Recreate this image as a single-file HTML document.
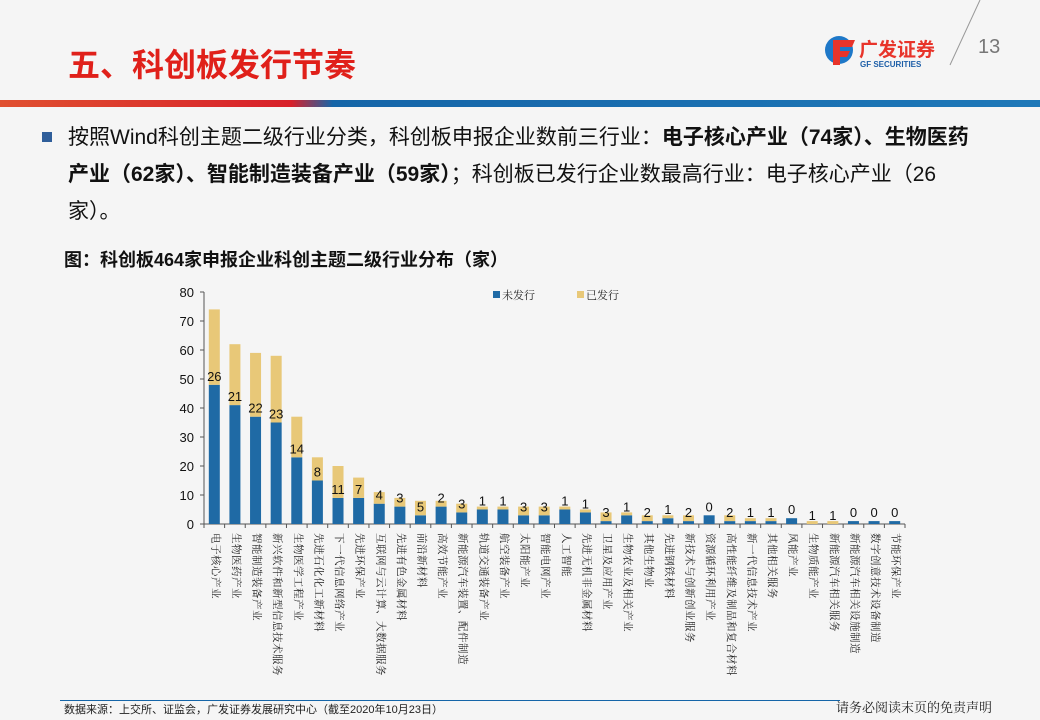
<!DOCTYPE html>
<html><head><meta charset="utf-8">
<style>
body{margin:0;width:1040px;height:720px;background:#f5f5f5;position:relative;overflow:hidden;font-family:"Liberation Sans","Noto Sans CJK SC",sans-serif;}
.abs{position:absolute;}
#title{left:68px;top:40px;font-size:32px;font-weight:bold;color:#e0201a;}
#band{left:0;top:100px;width:1040px;height:7px;background:linear-gradient(90deg,#e05030 0%,#d8202a 28%,#1565a8 32%,#1e78b8 100%);}
.txt{left:68px;font-size:21px;color:#111;line-height:37px;white-space:nowrap;}
b{font-weight:bold;}
#bullet{left:42px;top:132px;width:10px;height:10px;background:#2f5e9a;}
#ctitle{left:64px;top:246px;font-size:18px;font-weight:bold;color:#111;}
#footline{left:60px;top:700px;width:780px;height:1px;background:#1565a8;}
#source{left:64px;top:701px;font-size:11px;color:#222;}
#disc{left:836px;top:697px;font-size:13px;color:#222;font-family:"Liberation Serif","Noto Serif CJK SC",serif;}
.cat{position:absolute;top:533px;writing-mode:vertical-rl;text-orientation:sideways;font-size:10.5px;line-height:12px;color:#222;font-family:"Liberation Serif","Noto Serif CJK SC",serif;letter-spacing:0.5px;}
</style></head><body>
<div class="abs" id="title">五、科创板发行节奏</div>
<div class="abs" style="left:823px;top:32px;">
  <svg width="150" height="40"><circle cx="16" cy="18" r="14" fill="#1e78c8"/><path d="M10 8h22l-3 7h-12v4h10l-3 6h-7v8h-7z" fill="#e8342a"/>
  <text x="36" y="24" font-size="19" font-weight="bold" fill="#e8342a" font-family="Noto Sans CJK SC,sans-serif">广发证券</text>
  <text x="37" y="35" font-size="8" font-weight="bold" fill="#1e5fa8" font-family="Liberation Sans,sans-serif">GF SECURITIES</text></svg>
</div>
<svg class="abs" style="left:945px;top:0" width="40" height="70"><line x1="35" y1="0" x2="5" y2="65" stroke="#999" stroke-width="1"/></svg>
<div class="abs" style="left:978px;top:36px;font-size:20px;color:#777;">13</div>
<div class="abs" id="band"></div>
<div class="abs" id="bullet"></div>
<div class="abs txt" style="top:119px;">按照Wind科创主题二级行业分类，科创板申报企业数前三行业：<b>电子核心产业（74家）、生物医药</b><br><b>产业（62家）、智能制造装备产业（59家）</b>；科创板已发行企业数最高行业：电子核心产业（26<br>家）。</div>
<div class="abs" id="ctitle">图：科创板464家申报企业科创主题二级行业分布（家）</div>
<svg class="abs" id="chart" style="left:0;top:0" width="1040" height="720"></svg>
<div id="cats"></div>
<div class="abs" id="footline"></div>
<div class="abs" id="source">数据来源：上交所、证监会，广发证券发展研究中心（截至2020年10月23日）</div>
<div class="abs" id="disc">请务必阅读末页的免责声明</div>
<script>
const categories=["电子核心产业","生物医药产业","智能制造装备产业","新兴软件和新型信息技术服务","生物医学工程产业","先进石化化工新材料","下一代信息网络产业","先进环保产业","互联网与云计算、大数据服务","先进有色金属材料","前沿新材料","高效节能产业","新能源汽车装置、配件制造","轨道交通装备产业","航空装备产业","太阳能产业","智能电网产业","人工智能","先进无机非金属材料","卫星及应用产业","生物农业及相关产业","其他生物业","先进钢铁材料","新技术与创新创业服务","资源循环利用产业","高性能纤维及制品和复合材料","新一代信息技术产业","其他相关服务","风能产业","生物质能产业","新能源汽车相关服务","新能源汽车相关设施制造","数字创意技术设备制造","节能环保产业"];
const notIssued=[48,41,37,35,23,15,9,9,7,6,3,6,4,5,5,3,3,5,4,1,3,1,2,1,3,1,1,1,2,0,0,1,1,1];
const issued=[26,21,22,23,14,8,11,7,4,3,5,2,3,1,1,3,3,1,1,3,1,2,1,2,0,2,1,1,0,1,1,0,0,0];
const yTicks=[0,10,20,30,40,50,60,70,80];
const legendLabels=["未发行","已发行"];
const NS="http://www.w3.org/2000/svg";
const svg=document.getElementById('chart');
const x0=204,x1=905,yB=524,yT=292,yMax=80;
const step=(x1-x0)/categories.length;
const y=v=>yB-(v/yMax)*(yB-yT);
const xc=i=>x0+step*(i+0.5);
const bw=11;
function el(t,a){const e=document.createElementNS(NS,t);for(const k in a)e.setAttribute(k,a[k]);svg.appendChild(e);return e;}
let ax=el('line',{x1:x0,y1:yT,x2:x0,y2:yB,stroke:'#555'});


let bx=el('line',{x1:x0,y1:yB,x2:x1,y2:yB,stroke:'#555'});


yTicks.forEach(v=>{
  el('line',{x1:x0-4,y1:y(v),x2:x0,y2:y(v),stroke:'#555'});
  const t=el('text',{x:x0-10,y:y(v)+5,'text-anchor':'end','font-size':13,fill:'#111','font-family':'Liberation Sans,sans-serif'});
  t.textContent=v;
  
  
});
for(let i=0;i<=categories.length;i++)el('line',{x1:x0+step*i,y1:yB,x2:x0+step*i,y2:yB+4,stroke:'#555'});
const cats=document.getElementById('cats');
categories.forEach((c,i)=>{
  const b=el('rect',{x:xc(i)-bw/2,y:y(notIssued[i]),width:bw,height:yB-y(notIssued[i]),fill:'#1f6aa5'});
  
  
  const b2=el('rect',{x:xc(i)-bw/2,y:y(notIssued[i]+issued[i]),width:bw,height:y(notIssued[i])-y(notIssued[i]+issued[i]),fill:'#e8c878'});
  
  
  const lbl=el('text',{x:xc(i),y:y(notIssued[i])-4,'text-anchor':'middle','font-size':13,fill:'#111','font-family':'Liberation Sans,sans-serif'});
  lbl.textContent=issued[i];
  
  
  const d=document.createElement('div');
  d.className='cat';d.style.left=(xc(i)-6)+'px';d.textContent=c;
  
  
  cats.appendChild(d);
});
[['#1f6aa5',493],['#e8c878',577]].forEach((p,k)=>{
  const r=el('rect',{x:p[1],y:291,width:7,height:7,fill:p[0]});
  
  
  const t=el('text',{x:p[1]+9,y:299,'font-size':11,fill:'#222','font-family':'Noto Serif CJK SC,serif'});
  t.textContent=legendLabels[k];
  
  
});
</script>
</body></html>
